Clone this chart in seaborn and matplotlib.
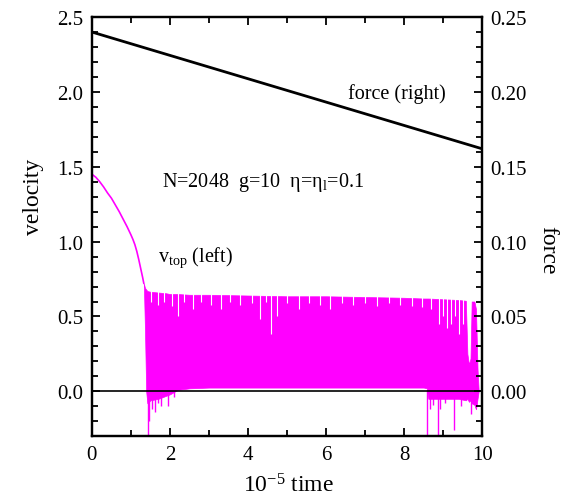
import matplotlib

matplotlib.use("Agg", force=True)
import matplotlib.pyplot as plt
import pandas as pd
import seaborn as sns
from matplotlib.ticker import MultipleLocator, FormatStrFormatter

# force on the right axis
FORCE_T = [0, 1, 2, 3, 4, 5, 6, 7, 8, 9, 10]
FORCE = [0.2400, 0.2322, 0.2244, 0.2166, 0.2088, 0.2010, 0.1932, 0.1854, 0.1776, 0.1698, 0.1620]

# smooth decay of v_top before the stick-slip regime
DECAY_T = [0.0, 0.1, 0.2, 0.3, 0.4, 0.5, 0.6, 0.7, 0.8, 0.9, 1.0, 1.05, 1.1, 1.15, 1.2, 1.25, 1.3, 1.33]
DECAY_V = [1.45, 1.43, 1.40, 1.365, 1.325, 1.29, 1.245, 1.20, 1.15, 1.10, 1.045, 1.015, 0.98, 0.935,
           0.88, 0.82, 0.76, 0.72]

# envelope of the oscillating part
OSC_T = [1.33, 1.36, 1.39, 1.42, 1.5, 1.7, 1.9, 2.0, 2.2, 2.5, 3.0, 4.0, 5.0, 6.0, 7.0, 8.0,
         8.5, 8.58, 8.62, 9.0, 9.4, 9.58, 9.62, 9.66, 9.70, 9.73, 9.80, 9.84, 9.88, 9.91]
OSC_HI = [0.72, 0.69, 0.68, 0.67, 0.665, 0.66, 0.655, 0.65, 0.65, 0.645, 0.645, 0.64, 0.635, 0.635,
          0.63, 0.625, 0.62, 0.62, 0.62, 0.615, 0.61, 0.605, 0.25, 0.18, 0.22, 0.60, 0.60, 0.55, 0.15, 0.00]
OSC_LO = [0.72, 0.40, 0.00, -0.08, -0.06, -0.05, -0.03, -0.02, 0.01, 0.02, 0.025, 0.025, 0.025, 0.025,
          0.025, 0.025, 0.025, 0.02, -0.05, -0.05, -0.05, -0.06, -0.05, -0.07, -0.06, -0.08, -0.09,
          -0.12, -0.05, 0.00]

# isolated downward spikes (time, minimum)
SPIKE_T = [1.44, 1.47, 1.55, 1.62, 1.70, 1.78, 1.95, 2.1, 8.58, 8.65, 8.75, 8.86, 8.92, 9.05, 9.27,
           9.45, 9.72, 9.83]
SPIKE_V = [-0.32, -0.20, -0.12, -0.14, -0.08, -0.10, -0.10, -0.04, -0.32, -0.12, -0.09, -0.32, -0.12,
           -0.08, -0.26, -0.10, -0.15, -0.10]

# white notches cutting down from the top of the band (time, lowest point)
GAP_T = [1.52, 1.68, 1.85, 2.05, 2.2, 2.35, 2.6, 2.8, 3.05, 3.3, 3.55, 3.8, 4.1, 4.3, 4.45, 4.6,
         4.75, 5.0, 5.3, 5.55, 5.85, 6.1, 6.4, 6.7, 7.0, 7.3, 7.6, 7.9, 8.2, 8.45, 8.7, 8.9, 9.0,
         9.1, 9.2, 9.3, 9.4, 9.5]
GAP_V = [0.60, 0.58, 0.60, 0.57, 0.50, 0.60, 0.55, 0.60, 0.58, 0.55, 0.60, 0.58, 0.59, 0.48, 0.60,
         0.38, 0.50, 0.59, 0.55, 0.59, 0.58, 0.55, 0.59, 0.58, 0.59, 0.57, 0.59, 0.58, 0.57, 0.56,
         0.55, 0.45, 0.50, 0.42, 0.45, 0.50, 0.38, 0.45]

MAGENTA = "#ff00ff"
SERIF = ["Liberation Serif", "DejaVu Serif"]


def set_style() -> None:
    sns.set_theme(style="ticks")
    plt.rcParams["font.family"] = SERIF
    plt.rcParams["mathtext.fontset"] = "custom"
    plt.rcParams["mathtext.rm"] = "Liberation Serif"
    plt.rcParams["mathtext.it"] = "Liberation Serif:italic"
    plt.rcParams["axes.unicode_minus"] = False
    for key in ("text.color", "axes.labelcolor", "xtick.color", "ytick.color", "axes.edgecolor"):
        plt.rcParams[key] = "black"


def main() -> None:
    set_style()
    fig = plt.figure(figsize=(5.64, 5.02), dpi=100)
    ax = fig.add_axes([0.163, 0.129, 0.692, 0.835])
    ax2 = ax.twinx()

    decay = pd.DataFrame({"t": DECAY_T, "v": DECAY_V})
    sns.lineplot(data=decay, x="t", y="v", color=MAGENTA, linewidth=1.2, ax=ax)
    ax.fill_between(OSC_T, OSC_LO, OSC_HI, color=MAGENTA, linewidth=0.5, edgecolor=MAGENTA)
    ax.vlines(SPIKE_T, SPIKE_V, [0.01] * len(SPIKE_T), color=MAGENTA, linewidth=1.0)
    ax.vlines(GAP_T, GAP_V, [0.70] * len(GAP_T), color="white", linewidth=0.8)
    ax.axhline(0.0, color="black", linewidth=1.2, zorder=5)

    force = pd.DataFrame({"t": FORCE_T, "f": FORCE})
    sns.lineplot(data=force, x="t", y="f", color="black", linewidth=2.0, ax=ax2)

    ax.set_xlim(0, 10)
    ax.set_ylim(-0.3, 2.5)
    ax2.set_ylim(-0.03, 0.25)

    ax.xaxis.set_major_locator(MultipleLocator(2))
    ax.xaxis.set_minor_locator(MultipleLocator(1))
    ax.yaxis.set_major_locator(MultipleLocator(0.5))
    ax.yaxis.set_minor_locator(MultipleLocator(0.1))
    ax.yaxis.set_major_formatter(FormatStrFormatter("%.1f"))
    ax2.yaxis.set_major_locator(MultipleLocator(0.05))
    ax2.yaxis.set_minor_locator(MultipleLocator(0.01))
    ax2.yaxis.set_major_formatter(FormatStrFormatter("%.2f"))

    ax.tick_params(axis="both", which="both", direction="in", top=True, labelsize=15,
                   width=1.3, colors="black", pad=6)
    ax.tick_params(axis="both", which="major", length=6)
    ax.tick_params(axis="both", which="minor", length=4)
    ax.tick_params(axis="y", right=False)
    ax2.tick_params(axis="y", which="both", direction="in", labelsize=15, width=1.3, pad=6,
                    colors="black")
    ax2.tick_params(axis="y", which="major", length=6)
    ax2.tick_params(axis="y", which="minor", length=4)

    for a in (ax, ax2):
        for spine in a.spines.values():
            spine.set_linewidth(1.6)
            spine.set_color("black")

    ax.set_xlabel(r"10$^{\mathregular{-5}}$ time", fontsize=17)
    ax.set_ylabel("velocity", fontsize=17)
    ax2.set_ylabel("force", fontsize=17, rotation=270)
    ax.xaxis.set_label_coords(0.503, -0.088)
    ax.yaxis.set_label_coords(-0.122, 0.573)
    ax2.yaxis.set_label_coords(1.196, 0.446)

    ax.text(6.56, 1.96, "force (right)", fontsize=14.5)
    ax.text(1.79, 1.37, r"N=2048  g=10  η=η$_{\mathregular{l}}$=0.1", fontsize=14.5)
    ax.text(1.70, 0.87, r"v$_{\mathregular{top}}$ (left)", fontsize=14.5)

    fig.savefig("out.png", dpi=100)
    plt.close(fig)


if __name__ == "__main__":
    main()
